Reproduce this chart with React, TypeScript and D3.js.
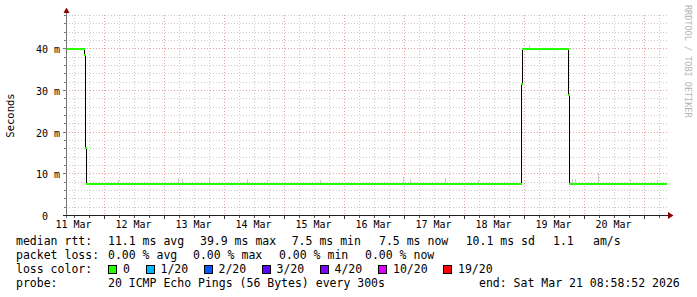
import React from "react";
import * as d3 from "d3";

// ---- data ----
const startTime = "2026-03-11T08:58:52Z";
const endTime = "2026-03-21T08:58:52Z";

// median rtt (ms), step-after
const medianTimes = [
  "2026-03-11T08:58:52Z",
  "2026-03-11T16:12:00Z",
  "2026-03-11T16:36:00Z",
  "2026-03-11T17:00:00Z",
  "2026-03-18T22:48:00Z",
  "2026-03-18T23:12:00Z",
  "2026-03-19T17:36:00Z",
  "2026-03-19T18:00:00Z",
];
const medianValues = [39.9, 38.5, 16.0, 7.5, 31.5, 39.9, 28.7, 7.5];
const medianLoss = [0, 0, 0, 0, 0, 0, 0, 0];

// smoke spikes (ms)
const smokeTimes = [
  "2026-03-12T05:48:00Z",
  "2026-03-13T05:48:00Z",
  "2026-03-13T07:24:00Z",
  "2026-03-13T18:12:00Z",
  "2026-03-14T05:24:00Z",
  "2026-03-14T09:24:00Z",
  "2026-03-14T17:24:00Z",
  "2026-03-15T14:36:00Z",
  "2026-03-16T23:48:00Z",
  "2026-03-17T02:36:00Z",
  "2026-03-17T16:36:00Z",
  "2026-03-18T05:48:00Z",
  "2026-03-19T02:12:00Z",
  "2026-03-19T19:24:00Z",
  "2026-03-19T20:36:00Z",
  "2026-03-20T05:48:00Z",
  "2026-03-20T18:36:00Z",
  "2026-03-21T05:24:00Z",
];
const smokeLow = [7.5, 7.5, 7.5, 7.5, 7.5, 7.5, 7.5, 7.5, 7.5, 7.5, 7.5, 7.5, 39.9, 7.5, 7.5, 7.5, 7.5, 7.5];
const smokeHigh = [8.4, 9.0, 8.7, 9.0, 8.2, 8.6, 8.4, 8.4, 9.2, 8.6, 9.0, 8.4, 40.8, 8.6, 8.6, 10.0, 8.7, 8.5];

const yTicks = [0, 10, 20, 30, 40];
const yUnits = ["", "m", "m", "m", "m"];
const xLabels = ["11 Mar", "12 Mar", "13 Mar", "14 Mar", "15 Mar", "16 Mar", "17 Mar", "18 Mar", "19 Mar", "20 Mar"];

const lossLabels = ["0", "1/20", "2/20", "3/20", "4/20", "10/20", "19/20"];
const lossColors = ["#26ff00", "#00b8ff", "#0059ff", "#5e00ff", "#7e00ff", "#dd00ff", "#ff0000"];

const rttLine = ["11.1 ms avg", "39.9 ms max", "7.5 ms min", "7.5 ms now", "10.1 ms sd", "1.1", "am/s"];
const lossLine = ["0.00 % avg", "0.00 % max", "0.00 % min", "0.00 % now"];
const probeText = "20 ICMP Echo Pings (56 Bytes) every 300s";
const endText = "end: Sat Mar 21 08:58:52 2026";

// ---- layout ----
const W = 697;
const H = 297;
const X0 = 66;
const X1 = 666;
const GRID_R = 669;
const Y0 = 215;
const Y1 = 15;
const MONO = "'DejaVu Sans Mono', monospace";

const rttX = [108, 200, 291.7, 379, 465.7, 553, 593];
const lossX = [108, 193, 279, 365];
const squareX = [108, 145.5, 203.5, 261.5, 319.5, 378, 443];

export default function App() {
  const t0 = new Date(startTime);
  const t1 = new Date(endTime);
  const x = d3.scaleUtc().domain([t0, t1]).range([X0, X1]);
  const y = d3.scaleLinear().domain([0, 48]).range([Y0, Y1]);
  const px = (t: Date) => Math.round(x(t)) + 0.5;
  const py = (v: number) => Math.round(y(v)) + 0.5;

  const minorV = d3.utcHour.every(6)!.range(t0, t1).filter((d) => d.getUTCHours() !== 0);
  const majorV = d3.utcDay.range(t0, t1);
  const minorH = d3.range(2, 49, 2).filter((v) => v % 10 !== 0);
  const majorH = [10, 20, 30, 40];
  const firstDay = d3.utcDay.floor(t0);

  const mt = medianTimes.map((s) => new Date(s));
  const pts: [number, number][] = mt.map((t, i) => [x(t), y(medianValues[i])]);
  pts.push([x(t1), y(medianValues[medianValues.length - 1])]);
  const stepLine = d3
    .line<[number, number]>()
    .x((d) => Math.round(d[0]) + 0.5)
    .y((d) => Math.round(d[1]) + 0.5)
    .curve(d3.curveStepAfter)(pts) as string;

  const segs = mt.map((t, i) => {
    const tn = i + 1 < mt.length ? mt[i + 1] : t1;
    return { xa: Math.round(x(t)), xb: Math.round(x(tn)) + 1, yv: Math.round(y(medianValues[i])), c: lossColors[medianLoss[i]] };
  });

  return (
    <svg width={W} height={H} style={{ position: "absolute", left: 0, top: 0, background: "#fff" }} xmlSpace="preserve">
      <rect x={0} y={0} width={W} height={H} fill="#fff" />
      {/* grid */}
      <g shapeRendering="crispEdges" strokeWidth={1}>
        {minorH.map((v) => (
          <line key={"mh" + v} x1={X0} x2={GRID_R} y1={py(v)} y2={py(v)} stroke="#c8c8c8" strokeDasharray="1,2" />
        ))}
        {minorV.map((d, i) => (
          <line key={"mv" + i} x1={px(d)} x2={px(d)} y1={Y1} y2={Y0} stroke="#c8c8c8" strokeDasharray="1,2" />
        ))}
        {majorH.map((v) => (
          <line key={"Mh" + v} x1={X0} x2={GRID_R} y1={py(v)} y2={py(v)} stroke="#e4a4a4" strokeDasharray="1,2" />
        ))}
        {majorV.map((d, i) => (
          <line key={"Mv" + i} x1={px(d)} x2={px(d)} y1={Y1} y2={Y0} stroke="#e4a4a4" strokeDasharray="1,2" />
        ))}
      </g>
      {/* smoke */}
      <g shapeRendering="crispEdges">
        {smokeTimes.map((s, i) => (
          <line key={"s" + i} x1={px(new Date(s))} x2={px(new Date(s))} y1={Math.round(y(smokeLow[i]))} y2={Math.round(y(smokeHigh[i]))} stroke="#cccccc" strokeWidth={1} />
        ))}
      </g>
      {/* median */}
      <path d={stepLine} fill="none" stroke="#000" strokeWidth={1} shapeRendering="crispEdges" />
      <g shapeRendering="crispEdges">
        {segs.map((s, i) => (
          <rect key={"g" + i} x={s.xa} y={s.yv - 1} width={Math.max(1, s.xb - s.xa)} height={2} fill={s.c} />
        ))}
      </g>
      {/* axes */}
      <g shapeRendering="crispEdges">
        <line x1={66.5} x2={66.5} y1={13} y2={218} stroke="#777" />
        <line x1={63} x2={668} y1={215.5} y2={215.5} stroke="#222" />
        {d3.range(2, 49, 2).map((v) => (
          <line key={"yt" + v} x1={v % 10 === 0 ? 63 : 64} x2={66} y1={py(v)} y2={py(v)} stroke="#777" />
        ))}
        {minorV.map((d, i) => (
          <line key={"xt" + i} x1={px(d)} x2={px(d)} y1={216} y2={218} stroke="#555" />
        ))}
        {majorV.map((d, i) => (
          <line key={"xT" + i} x1={px(d)} x2={px(d)} y1={216} y2={219} stroke="#333" />
        ))}
      </g>
      <path d="M63.5,13 L69.5,13 L66.5,7.5 Z" fill="#8b0000" />
      <path d="M668,212 L668,219 L673.5,215.5 Z" fill="#8b0000" />
      {/* y labels */}
      <g fontFamily={MONO} fontSize={10} fill="#000">
        {yTicks.map((v, i) => (
          <g key={"yl" + v}>
            <text x={48} y={Math.round(y(v)) + 4.5} textAnchor="end">{String(v)}</text>
            <text x={54} y={Math.round(y(v)) + 4.5}>{yUnits[i]}</text>
          </g>
        ))}
        {xLabels.map((lab, i) => (
          <text key={"xl" + i} x={x(d3.utcHour.offset(d3.utcDay.offset(firstDay, i), 12))} y={228} textAnchor="middle">{lab}</text>
        ))}
      </g>
      <text transform="translate(14,115.5) rotate(-90)" fontFamily={MONO} fontSize={10.5} textAnchor="middle" fill="#000">Seconds</text>
      <text transform="translate(684.5,5) rotate(90)" fontFamily={MONO} fontSize={8.5} fill="#b4b4b4">RRDTOOL / TOBI OETIKER</text>
      {/* legend */}
      <g fontFamily={MONO} fontSize={11.5} fill="#000">
        <text x={16} y={245}>median rtt:</text>
        {rttLine.map((s, i) => (
          <text key={"r" + i} x={rttX[i]} y={245}>{s}</text>
        ))}
        <text x={16} y={259}>packet loss:</text>
        {lossLine.map((s, i) => (
          <text key={"l" + i} x={lossX[i]} y={259}>{s}</text>
        ))}
        <text x={16} y={273}>loss color:</text>
        {lossLabels.map((s, i) => (
          <g key={"c" + i}>
            <rect x={squareX[i] + 0.5} y={265.5} width={8} height={8} fill={lossColors[i]} stroke="#000" strokeWidth={1} shapeRendering="crispEdges" />
            <text x={squareX[i] + 15} y={273}>{s}</text>
          </g>
        ))}
        <text x={16} y={287}>probe:</text>
        <text x={108} y={287}>{probeText}</text>
        <text x={479} y={287}>{endText}</text>
      </g>
    </svg>
  );
}
